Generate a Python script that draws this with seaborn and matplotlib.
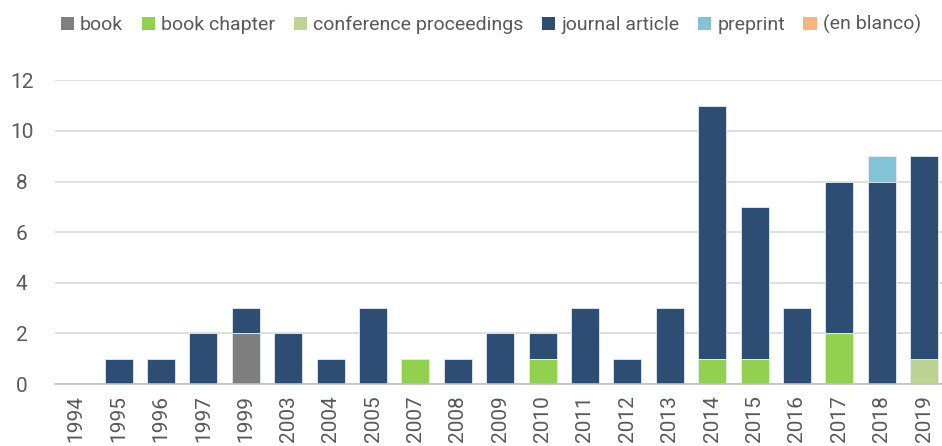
import numpy as np
import pandas as pd
import matplotlib
matplotlib.use("Agg")
import matplotlib.pyplot as plt
import seaborn as sns
from matplotlib.patches import Patch

years = ["1994", "1995", "1996", "1997", "1999", "2003", "2004", "2005", "2007",
         "2008", "2009", "2010", "2011", "2012", "2013", "2014", "2015", "2016",
         "2017", "2018", "2019"]
book = [0, 0, 0, 0, 2, 0, 0, 0, 0, 0, 0, 0, 0, 0, 0, 0, 0, 0, 0, 0, 0]
book_chapter = [0, 0, 0, 0, 0, 0, 0, 0, 1, 0, 0, 1, 0, 0, 0, 1, 1, 0, 2, 0, 0]
conference = [0, 0, 0, 0, 0, 0, 0, 0, 0, 0, 0, 0, 0, 0, 0, 0, 0, 0, 0, 0, 1]
journal = [0, 1, 1, 2, 1, 2, 1, 3, 0, 1, 2, 1, 3, 1, 3, 10, 6, 3, 6, 8, 8]
preprint = [0, 0, 0, 0, 0, 0, 0, 0, 0, 0, 0, 0, 0, 0, 0, 0, 0, 0, 0, 1, 0]
en_blanco = [0] * len(years)

types = ["book", "book chapter", "conference proceedings", "journal article",
         "preprint", "(en blanco)"]
colors = ["#7f7f7f", "#92d050", "#bdd393", "#2d4d74", "#82c4d6", "#f8b47f"]

df = pd.DataFrame({"year": years, "book": book, "book chapter": book_chapter,
                   "conference proceedings": conference,
                   "journal article": journal, "preprint": preprint,
                   "(en blanco)": en_blanco})
cum = df[types].cumsum(axis=1)

sns.set_style("white")
plt.rcParams["font.family"] = ["Roboto", "DejaVu Sans"]
text_color = "#595959"

fig = plt.figure(figsize=(9.42, 4.46), dpi=100)
ax = fig.add_axes([0.0585, 0.139, 0.945, 0.681])

# draw cumulative totals from the top layer down so lower layers overlay
for t, c in reversed(list(zip(types, colors))):
    sns.barplot(x=df["year"], y=cum[t], color=c, order=years, width=0.66,
                edgecolor="#e8edf3", linewidth=0.6, saturation=1, ax=ax)

ax.set_ylim(0, 12)
ax.set_yticks(range(0, 13, 2))
ax.set_xlim(-0.5, len(years) - 0.5)
ax.yaxis.grid(True, color="#d9d9d9", linewidth=1.2)
ax.set_axisbelow(True)
for s in ["top", "right", "left"]:
    ax.spines[s].set_visible(False)
ax.spines["bottom"].set_color("#bfbfbf")
ax.spines["bottom"].set_linewidth(1.2)
ax.set_xlabel("")
ax.set_ylabel("")
ax.tick_params(axis="x", rotation=90, labelsize=15, colors=text_color, length=0, pad=8)
ax.tick_params(axis="y", labelsize=15, colors=text_color, length=0, pad=24)
for lbl in ax.get_yticklabels():
    lbl.set_horizontalalignment("center")

handles = [Patch(facecolor=c, edgecolor="none", label=t) for t, c in zip(types, colors)]
fig.legend(handles=handles, loc="upper center", bbox_to_anchor=(0.521, 1.005), ncol=6,
           frameon=False, fontsize=14, handlelength=0.7, handleheight=0.7,
           handletextpad=0.3, columnspacing=0.95, labelcolor=text_color)

fig.savefig("out.png", dpi=100)
